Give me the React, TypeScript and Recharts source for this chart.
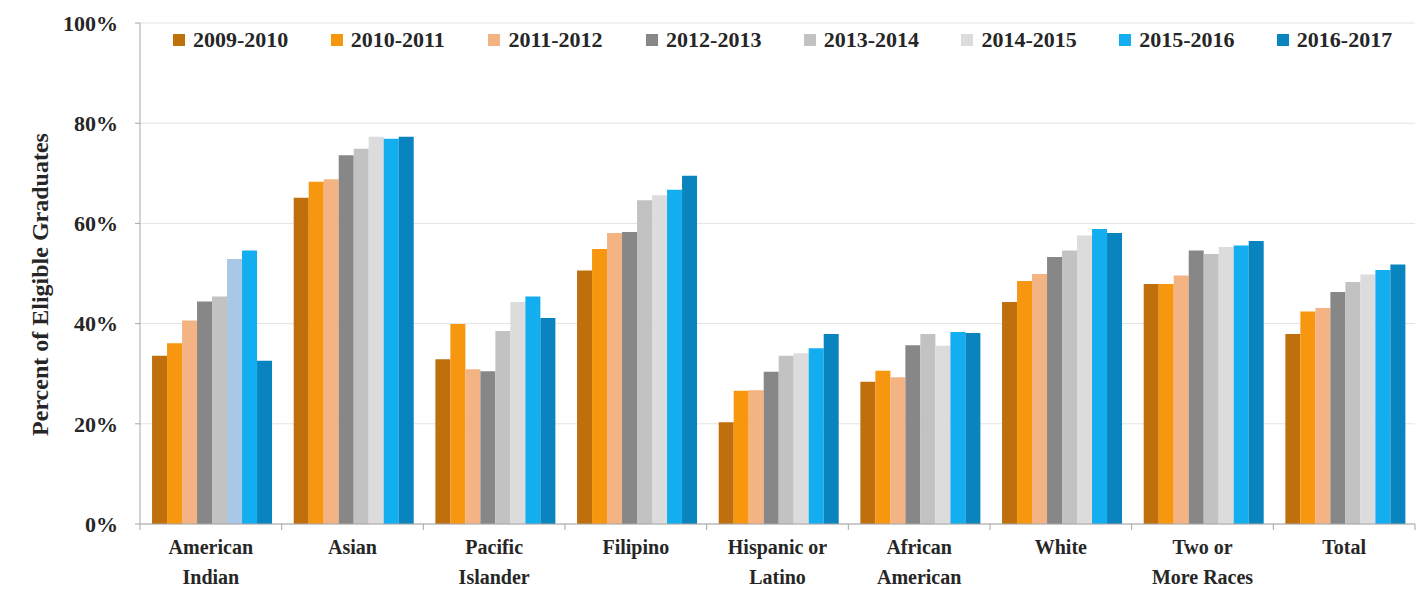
import React from 'react';
import { BarChart, Bar, XAxis, YAxis, CartesianGrid, Cell } from 'recharts';

const categories = [
  'American\nIndian',
  'Asian',
  'Pacific\nIslander',
  'Filipino',
  'Hispanic or\nLatino',
  'African\nAmerican',
  'White',
  'Two or\nMore Races',
  'Total',
];

const seasons = ['2009-2010', '2010-2011', '2011-2012', '2012-2013', '2013-2014', '2014-2015', '2015-2016', '2016-2017'];
const seasonColors = ['#C06F0D', '#F7960F', '#F4B383', '#878787', '#C2C2C2', '#DCDCDC', '#12AEEF', '#0A84BF'];

const y0910 = [33.6, 65.1, 32.9, 50.6, 20.3, 28.4, 44.3, 47.9, 37.9];
const y1011 = [36.1, 68.3, 39.9, 54.9, 26.6, 30.6, 48.5, 47.9, 42.4];
const y1112 = [40.6, 68.8, 30.9, 58.1, 26.7, 29.3, 49.9, 49.6, 43.1];
const y1213 = [44.4, 73.6, 30.5, 58.3, 30.4, 35.7, 53.3, 54.6, 46.3];
const y1314 = [45.4, 74.9, 38.5, 64.6, 33.6, 37.9, 54.6, 53.9, 48.3];
const y1415 = [52.9, 77.3, 44.3, 65.6, 34.1, 35.6, 57.6, 55.3, 49.8];
const y1516 = [54.6, 76.9, 45.4, 66.7, 35.1, 38.3, 58.9, 55.6, 50.7];
const y1617 = [32.6, 77.3, 41.1, 69.5, 37.9, 38.1, 58.1, 56.5, 51.8];

const seriesValues = [y0910, y1011, y1112, y1213, y1314, y1415, y1516, y1617];
const yTicks = [0, 20, 40, 60, 80, 100];

// the American Indian 2014-2015 bar is drawn light blue in the original
const oddCellColor = '#A8C8E8';

const data = categories.map((name, i) => {
  const row: Record<string, any> = { name };
  seasons.forEach((s, k) => {
    row[s] = seriesValues[k][i];
  });
  return row;
});

const FONT = "'Liberation Serif', 'Times New Roman', serif";
const TEXT = '#262626';

const CategoryTick = (props: any) => {
  const { x, y, payload, index } = props;
  const lines = String(payload.value).split('\n');
  const half = payload.offset || 0;
  return (
    <g>
      <line x1={x - half} x2={x - half} y1={y - 8} y2={y - 2} stroke="#A6A6A6" />
      {index === categories.length - 1 && (
        <line x1={x + half} x2={x + half} y1={y - 8} y2={y - 2} stroke="#A6A6A6" />
      )}
      <text x={x} y={y + 22} textAnchor="middle" fontFamily={FONT} fontWeight="bold" fontSize={20} fill={TEXT}>
        {lines.map((l, i) => (
          <tspan key={i} x={x} dy={i === 0 ? 0 : 30}>
            {l}
          </tspan>
        ))}
      </text>
    </g>
  );
};

const YLabel = (props: any) => {
  const vb = props.viewBox || { x: 0, y: 0, width: 0, height: 0 };
  const cx = 40;
  const cy = vb.y + vb.height / 2 + 11;
  return (
    <text
      x={cx}
      y={cy}
      transform={`rotate(-90 ${cx} ${cy})`}
      textAnchor="middle"
      dominantBaseline="central"
      fontFamily={FONT}
      fontWeight="bold"
      fontSize={24}
      fill={TEXT}
    >
      Percent of Eligible Graduates
    </text>
  );
};

export default function App() {
  return (
    <div style={{ position: 'absolute', left: 0, top: 0, width: 1424, height: 600, background: '#fff' }}>
      <BarChart
        width={1424}
        height={600}
        data={data}
        margin={{ top: 23, right: 9, bottom: 0, left: 0 }}
        barCategoryGap="8.5%"
        barGap={0}
      >
        <CartesianGrid vertical={false} stroke="#E3E3E3" />
        <XAxis
          dataKey="name"
          height={76}
          interval={0}
          tickSize={6}
          tickMargin={2}
          tickLine={false}
          axisLine={{ stroke: '#A6A6A6' }}
          tick={<CategoryTick />}
        />
        <YAxis
          width={140}
          domain={[0, 100]}
          ticks={yTicks}
          tickFormatter={(v) => `${v}%`}
          tick={{ fontFamily: FONT, fontWeight: 'bold', fontSize: 22, fill: TEXT }}
          tickSize={5}
          tickMargin={17}
          tickLine={{ stroke: '#A6A6A6' }}
          axisLine={{ stroke: '#A6A6A6' }}
          label={<YLabel />}
        />
        {seasons.map((s, k) => (
          <Bar key={s} dataKey={s} fill={seasonColors[k]} isAnimationActive={false}>
            {s === '2014-2015' &&
              data.map((_, i) => <Cell key={i} fill={i === 0 ? oddCellColor : seasonColors[k]} />)}
          </Bar>
        ))}
      </BarChart>
      <div
        style={{
          position: 'absolute',
          top: 27,
          left: 173,
          display: 'flex',
          fontFamily: FONT,
          fontWeight: 'bold',
          fontSize: 22,
          color: TEXT,
          whiteSpace: 'nowrap',
        }}
      >
        {seasons.map((s, k) => (
          <div key={s} style={{ width: 157.7, display: 'flex', alignItems: 'center', height: 26 }}>
            <span style={{ display: 'inline-block', width: 12, height: 12, background: seasonColors[k], marginRight: 8 }} />
            <span>{s}</span>
          </div>
        ))}
      </div>
    </div>
  );
}
